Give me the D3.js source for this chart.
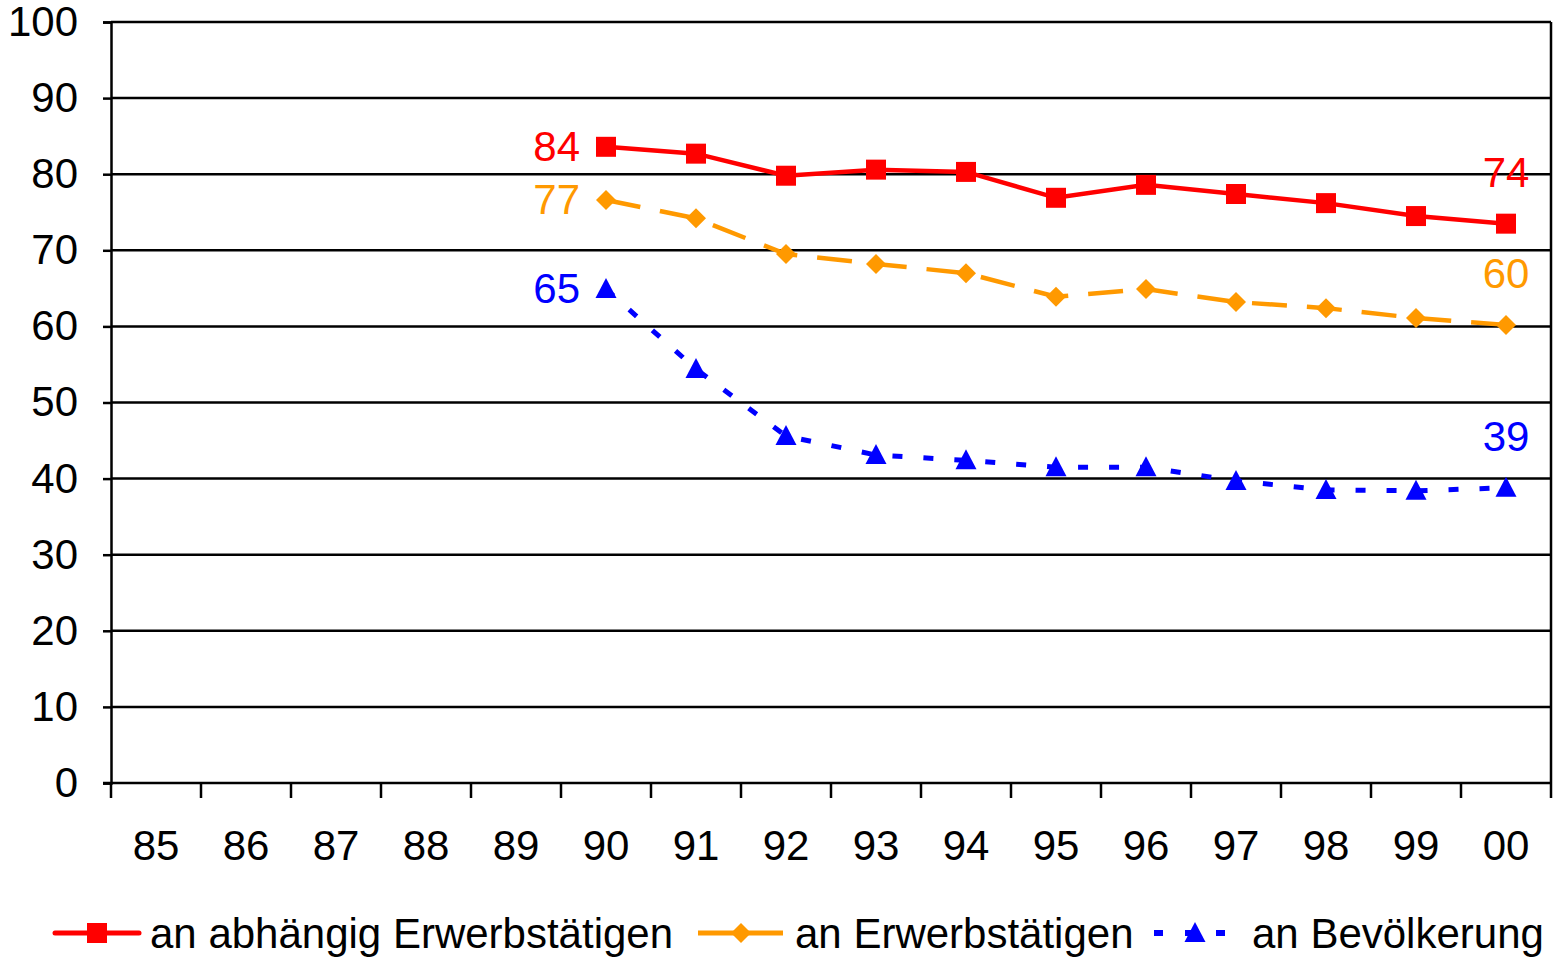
<!DOCTYPE html>
<html>
<head>
<meta charset="utf-8">
<script src="https://cdn.jsdelivr.net/npm/d3@7"></script>
<style>
  body { margin: 0; background: #fff; }
  text { font-family: "Liberation Sans", Arial, sans-serif; }
</style>
</head>
<body>
<svg id="chart" width="1559" height="958"></svg>
<script>
// years on the x axis
var years = ['85', '86', '87', '88', '89', '90', '91', '92', '93', '94', '95', '96', '97', '98', '99', '00'];
// data only exists from 90 on
var dataYears = ['90', '91', '92', '93', '94', '95', '96', '97', '98', '99', '00'];
var abhaengig = [83.6, 82.7, 79.8, 80.6, 80.3, 76.9, 78.6, 77.4, 76.2, 74.5, 73.5];
var erwerbs = [76.6, 74.2, 69.5, 68.2, 67.0, 63.9, 64.9, 63.2, 62.4, 61.1, 60.2];
var bevoelkerung = [64.9, 54.4, 45.6, 43.1, 42.4, 41.5, 41.5, 39.7, 38.5, 38.4, 38.8];
var yTicks = [0, 10, 20, 30, 40, 50, 60, 70, 80, 90, 100];
var seriesNames = ['an abhängig Erwerbstätigen', 'an Erwerbstätigen', 'an Bevölkerung'];
// labels at start and end of each line
var startLabels = ['84', '77', '65'];
var endLabels = ['74', '60', '39'];

var series = [
  { name: seriesNames[0], values: abhaengig, color: '#ff0000', dash: null, marker: 'square' },
  { name: seriesNames[1], values: erwerbs, color: '#ff9900', dash: '35,20', marker: 'diamond' },
  { name: seriesNames[2], values: bevoelkerung, color: '#0000ff', dash: '10,21', marker: 'triangle' }
];

var svg = d3.select('#chart'),
  margin = {top: 22, right: 8, bottom: 175, left: 111},
  width = +svg.attr('width') - margin.left - margin.right,
  height = +svg.attr('height') - margin.top - margin.bottom;

var fontSize = 42;

var x = d3.scaleBand().domain(years).range([0, width]).padding(0);
var y = d3.scaleLinear().domain([0, 100]).range([height, 0]);

var g = svg.append('g')
  .attr('transform', 'translate(' + margin.left + ', ' + margin.top + ')');

// Grid lines
g.selectAll('.grid')
  .data(yTicks.filter(function(d) { return d > 0; }))
  .enter()
  .append('line')
    .attr('x1', 0)
    .attr('x2', width)
    .attr('y1', function(d) { return y(d); })
    .attr('y2', function(d) { return y(d); })
    .attr('stroke', '#000')
    .attr('stroke-width', 2.5);

// right border of the plot area
g.append('line')
  .attr('x1', width).attr('x2', width)
  .attr('y1', 0).attr('y2', height)
  .attr('stroke', '#000').attr('stroke-width', 2.5);

// Y Axis
var yAxis = g.append('g')
  .call(d3.axisLeft(y).tickValues(yTicks).tickSize(8).tickPadding(25));
yAxis.select('.domain').attr('stroke', '#000').attr('stroke-width', 2.5);
yAxis.selectAll('.tick line').attr('stroke', '#000').attr('stroke-width', 2.5);
yAxis.selectAll('.tick text')
  .attr('font-size', fontSize)
  .attr('font-family', '"Liberation Sans", Arial, sans-serif')
  .attr('fill', '#000');

// X Axis, ticks sit between the categories
var xAxis = g.append('g')
  .attr('transform', 'translate(0, ' + height + ')');
xAxis.append('line')
  .attr('x1', -8).attr('x2', width)
  .attr('stroke', '#000').attr('stroke-width', 2.5);
var tickPos = years.map(function(d) { return x(d); }).concat([width]);
xAxis.selectAll('.xtick')
  .data(tickPos)
  .enter()
  .append('line')
    .attr('x1', function(d) { return d; })
    .attr('x2', function(d) { return d; })
    .attr('y1', 0)
    .attr('y2', 15)
    .attr('stroke', '#000')
    .attr('stroke-width', 2.5);
xAxis.selectAll('.xlabel')
  .data(years)
  .enter()
  .append('text')
    .attr('x', function(d) { return x(d) + x.bandwidth() / 2; })
    .attr('y', 77)
    .attr('text-anchor', 'middle')
    .attr('font-size', fontSize)
    .attr('fill', '#000')
    .text(function(d) { return d; });

function cx(i) { return x(dataYears[i]) + x.bandwidth() / 2; }

// marker shapes, centred on 0,0
var markerPaths = {
  square: 'M-10,-10H10V10H-10Z',
  diamond: 'M0,-10L10,0L0,10L-10,0Z',
  triangle: 'M0,-11L10.5,9L-10.5,9Z'
};

function drawMarker(sel, type, color) {
  return sel.append('path')
    .attr('d', markerPaths[type])
    .attr('fill', color);
}

var line = d3.line()
  .x(function(d, i) { return cx(i); })
  .y(function(d) { return y(d); });

series.forEach(function(s, k) {
  g.append('path')
    .datum(s.values)
    .attr('d', line)
    .attr('fill', 'none')
    .attr('stroke', s.color)
    .attr('stroke-width', s.marker === 'triangle' ? 5 : 4.5)
    .attr('stroke-dasharray', s.dash);

  s.values.forEach(function(v, i) {
    var m = g.append('g')
      .attr('transform', 'translate(' + cx(i) + ',' + y(v) + ')');
    drawMarker(m, s.marker, s.color);
  });

  // start label left of the first point
  g.append('text')
    .attr('x', cx(0) - 26)
    .attr('y', y(s.values[0]) + 14)
    .attr('text-anchor', 'end')
    .attr('font-size', fontSize)
    .attr('fill', s.color)
    .text(startLabels[k]);

  // end label above the last point
  var last = s.values.length - 1;
  g.append('text')
    .attr('x', cx(last))
    .attr('y', y(s.values[last]) - 37)
    .attr('text-anchor', 'middle')
    .attr('font-size', fontSize)
    .attr('fill', s.color)
    .text(endLabels[k]);
});

// Legend
var legendY = 933;
var legendItems = [
  { lineX: [55, 139], markX: 97, textX: 150 },
  { lineX: [698, 783], markX: 741, textX: 795 },
  { lineX: [1154, 1226], markX: 1195, textX: 1252 }
];
series.forEach(function(s, k) {
  var it = legendItems[k];
  svg.append('line')
    .attr('x1', it.lineX[0]).attr('x2', it.lineX[1])
    .attr('y1', legendY).attr('y2', legendY)
    .attr('stroke', s.color)
    .attr('stroke-width', s.marker === 'triangle' ? 6 : 5)
    .attr('stroke-linecap', s.dash ? 'butt' : 'round')
    .attr('stroke-dasharray', s.marker === 'triangle' ? '9,22' : null);
  var m = svg.append('g')
    .attr('transform', 'translate(' + it.markX + ',' + legendY + ')');
  drawMarker(m, s.marker, s.color);
  svg.append('text')
    .attr('x', it.textX)
    .attr('y', legendY + 15)
    .attr('font-size', fontSize)
    .attr('fill', '#000')
    .text(s.name);
});
</script>
</body>
</html>
